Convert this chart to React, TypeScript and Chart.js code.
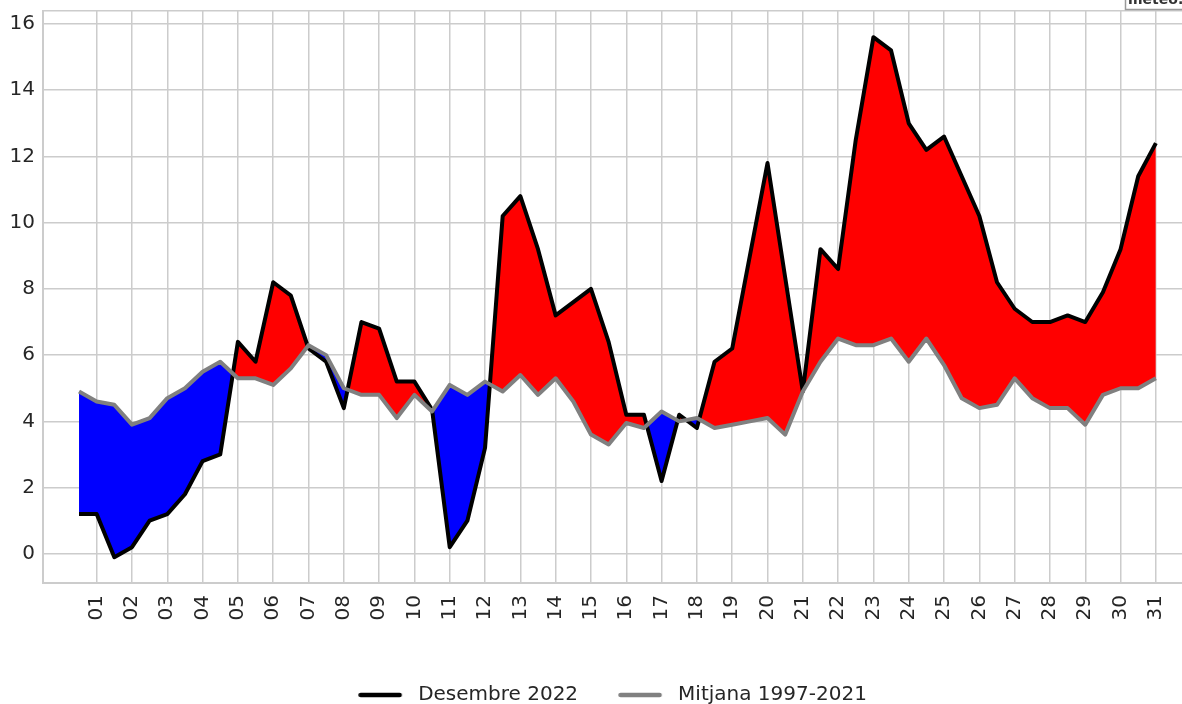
import React, { useEffect, useRef } from "react";
import { Chart, registerables } from "chart.js";

Chart.register(...registerables);

// Half-day time positions (day of month)
const times = [
  0.5, 1, 1.5, 2, 2.5, 3, 3.5, 4, 4.5, 5, 5.5, 6, 6.5, 7, 7.5, 8, 8.5, 9, 9.5, 10,
  10.5, 11, 11.5, 12, 12.5, 13, 13.5, 14, 14.5, 15, 15.5, 16, 16.5, 17, 17.5, 18, 18.5, 19, 19.5, 20,
  20.5, 21, 21.5, 22, 22.5, 23, 23.5, 24, 24.5, 25, 25.5, 26, 26.5, 27, 27.5, 28, 28.5, 29, 29.5, 30,
  30.5, 31,
];

const dec2022 = [
  1.2, 1.2, -0.1, 0.2, 1.0, 1.2, 1.8, 2.8, 3.0, 6.4,
  5.8, 8.2, 7.8, 6.2, 5.8, 4.4, 7.0, 6.8, 5.2, 5.2,
  4.35, 0.2, 1.0, 3.2, 10.2, 10.8, 9.2, 7.2, 7.6, 8.0,
  6.4, 4.2, 4.2, 2.2, 4.2, 3.8, 5.8, 6.2, 9.0, 11.8,
  8.35, 4.9, 9.2, 8.6, 12.5, 15.6, 15.2, 13.0, 12.2, 12.6,
  11.4, 10.2, 8.2, 7.4, 7.0, 7.0, 7.2, 7.0, 7.9, 9.2,
  11.4, 12.4,
];

const avg19972021 = [
  4.9, 4.6, 4.5, 3.9, 4.1, 4.7, 5.0, 5.5, 5.8, 5.3,
  5.3, 5.1, 5.6, 6.3, 6.0, 5.0, 4.8, 4.8, 4.1, 4.8,
  4.3, 5.1, 4.8, 5.2, 4.9, 5.4, 4.8, 5.3, 4.6, 3.6,
  3.3, 3.95, 3.8, 4.3, 4.0, 4.1, 3.8, 3.9, 4.0, 4.1,
  3.6, 4.9, 5.8, 6.5, 6.3, 6.3, 6.5, 5.8, 6.5, 5.7,
  4.7, 4.4, 4.5, 5.3, 4.7, 4.4, 4.4, 3.9, 4.8, 5.0,
  5.0, 5.3,
];

const dayTicks = [
  1, 2, 3, 4, 5, 6, 7, 8, 9, 10, 11, 12, 13, 14, 15, 16, 17, 18, 19, 20,
  21, 22, 23, 24, 25, 26, 27, 28, 29, 30, 31,
];
const dayLabels = [
  "01", "02", "03", "04", "05", "06", "07", "08", "09", "10", "11", "12", "13", "14", "15", "16",
  "17", "18", "19", "20", "21", "22", "23", "24", "25", "26", "27", "28", "29", "30", "31",
];
const yTicks = [0, 2, 4, 6, 8, 10, 12, 14, 16];

const seriesNames = ["Desembre 2022", "Mitjana 1997-2021"];

const X_MIN = -0.52;
const X_MAX = 31.74;
const Y_MIN = -0.88;
const Y_MAX = 16.39;

const GRID = "#cccccc";
const TEXT = "#262626";
const FONT = "'DejaVu Sans', sans-serif";

function makeIcon(color: string) {
  const c = document.createElement("canvas");
  c.width = 50;
  c.height = 8;
  const g = c.getContext("2d")!;
  g.strokeStyle = color;
  g.lineWidth = 4.5;
  g.lineCap = "round";
  g.beginPath();
  g.moveTo(2.5, 4);
  g.lineTo(41.5, 4);
  g.stroke();
  return c;
}

const logoPlugin = {
  id: "logoBox",
  afterDraw(chart: any) {
    const ctx = chart.ctx;
    ctx.save();
    ctx.fillStyle = "#ffffff";
    ctx.strokeStyle = "#9a9a9a";
    ctx.lineWidth = 1.5;
    ctx.fillRect(1125, -20, 70, 29.5);
    ctx.strokeRect(1125.5, -20, 70, 29.5);
    ctx.fillStyle = "#333333";
    ctx.font = `bold 14px ${FONT}`;
    ctx.textBaseline = "alphabetic";
    ctx.fillText("meteo.cat", 1128, 4);
    ctx.restore();
  },
};

export default function App() {
  const ref = useRef<HTMLCanvasElement | null>(null);

  useEffect(() => {
    if (!ref.current) return;
    const icons = [makeIcon("#000000"), makeIcon("#808080")];
    const chart = new Chart(ref.current, {
      type: "line",
      data: {
        datasets: [
          {
            label: seriesNames[0],
            data: times.map((t, i) => ({ x: t, y: dec2022[i] })),
            borderColor: "#000000",
            borderWidth: 4,
            borderJoinStyle: "round",
            borderCapStyle: "butt",
            pointRadius: 0,
            tension: 0,
            order: 1,
            fill: { target: 1, above: "#ff0000", below: "#0000ff" },
          },
          {
            label: seriesNames[1],
            data: times.map((t, i) => ({ x: t, y: avg19972021[i] })),
            borderColor: "#808080",
            borderWidth: 4,
            borderJoinStyle: "round",
            borderCapStyle: "butt",
            pointRadius: 0,
            tension: 0,
            order: 0,
            fill: false,
          },
        ],
      },
      options: {
        animation: false,
        responsive: false,
        devicePixelRatio: 1,
        font: { family: FONT },
        layout: { padding: { top: 11, left: 0, right: 0, bottom: -11 } },
        scales: {
          x: {
            type: "linear",
            min: X_MIN,
            max: X_MAX,
            afterBuildTicks: (scale: any) => {
              scale.ticks = dayTicks.map((v) => ({ value: v }));
            },
            afterFit: (scale: any) => {
              scale.height = 62;
              scale.paddingLeft = 0;
              scale.paddingRight = 0;
            },
            ticks: {
              autoSkip: false,
              minRotation: 90,
              maxRotation: 90,
              padding: 12,
              color: TEXT,
              font: { family: FONT, size: 20 },
              callback: (_v: any, i: number) => dayLabels[i],
            },
            grid: { color: GRID, lineWidth: 1.5, drawTicks: false },
            border: { color: GRID, width: 2 },
          },
          y: {
            type: "linear",
            min: Y_MIN,
            max: Y_MAX,
            afterBuildTicks: (scale: any) => {
              scale.ticks = [...yTicks.map((v) => ({ value: v })), { value: Y_MAX }];
            },
            afterFit: (scale: any) => {
              scale.width = 43;
              scale.paddingTop = 0;
              scale.paddingBottom = 0;
            },
            ticks: {
              padding: 8,
              color: TEXT,
              font: { family: FONT, size: 20 },
              callback: (v: any) => (yTicks.includes(v) ? String(v) : ""),
            },
            grid: { color: GRID, lineWidth: 1.5, drawTicks: false },
            border: { color: GRID, width: 2 },
          },
        },
        plugins: {
          filler: { propagate: false, drawTime: "beforeDatasetsDraw" },
          tooltip: { enabled: false },
          title: { display: false },
          legend: {
            display: true,
            position: "bottom",
            fullSize: false,
            labels: {
              usePointStyle: true,
              pointStyleWidth: 50,
              padding: 40,
              color: TEXT,
              font: { family: FONT, size: 20 },
              sort: (a: any, b: any) => a.datasetIndex - b.datasetIndex,
              generateLabels: (c: any) => {
                const items = (Chart as any).defaults.plugins.legend.labels.generateLabels(c);
                items.forEach((it: any) => {
                  it.pointStyle = icons[it.datasetIndex];
                });
                return items;
              },
            },
          },
        },
      } as any,
      plugins: [logoPlugin],
    });
    return () => chart.destroy();
  }, []);

  return (
    <div style={{ position: "fixed", left: 0, top: 0, width: 1182, height: 704, background: "#fff" }}>
      <canvas ref={ref} width={1182} height={704} style={{ display: "block" }} />
    </div>
  );
}
